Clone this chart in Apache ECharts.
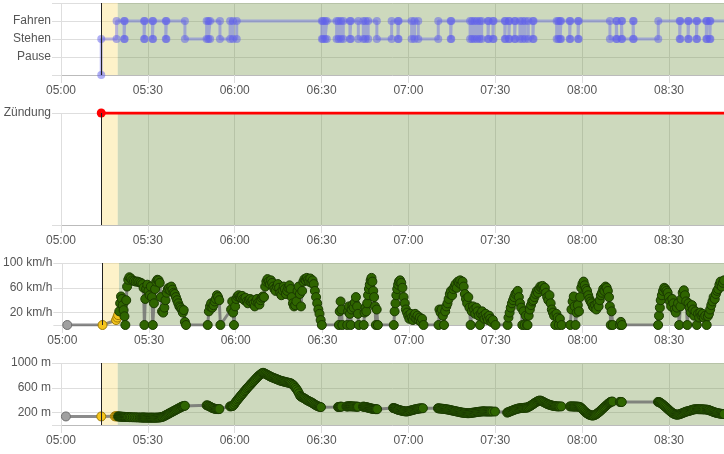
<!DOCTYPE html>
<html><head><meta charset="utf-8">
<script src="https://cdn.jsdelivr.net/npm/echarts@6/dist/echarts.min.js"></script>
<style>html,body{margin:0;padding:0;background:#fff}#c{width:724px;height:454px}</style>
</head><body><div id="c"></div>
<script>
// time values are minutes after 05:00
const axisMinutes = [0, 229];
const xTickLabels = ['05:00','05:30','06:00','06:30','07:00','07:30','08:00','08:30'];
const ignitionStart = 13.9;
const drivingStart = 19.6;

const stateNames = ['', 'Pause', 'Stehen', 'Fahren', ''];
const stateTimes = [13.9,19.2,21.8,22.0,28.7,28.9,31.6,31.8,36.2,36.4,42.8,
  50.3,50.9,51.5,54.9,58.4,59.4,60.7,90.1,90.5,91.2,91.8,95.2,95.9,96.7,97.5,99.8,100.1,
  102.7,104.4,105.2,106.1,109.1,114.2,116.4,116.6,121.1,122.1,123.4,130.3,134.6,134.8,
  141.3,142.0,142.8,143.7,144.6,145.3,147.5,147.7,149.2,149.4,153.3,153.5,154.7,154.9,156.7,156.9,
  158.5,159.4,160.3,161.4,163.0,163.2,171.2,171.8,172.4,172.7,175.7,175.9,178.6,178.8,
  189.6,191.8,192.0,193.6,193.8,197.6,197.8,206.3,213.7,213.9,216.6,216.8,219.5,219.7,222.9,223.1,224.1,224.3];
const stateValues = [2,3,2,3,2,3,2,3,2,3,2,
  3,2,3,2,3,2,3,2,3,2,3,2,3,2,3,2,3,
  2,3,2,3,2,3,2,3,2,3,2,3,2,3,
  2,3,2,3,2,3,2,3,2,3,2,3,2,3,2,3,
  2,3,2,3,2,3,2,3,2,3,2,3,2,3,
  2,3,2,3,2,3,2,3,2,3,2,3,2,3,2,3,2,3];

const ignitionLabel = 'Zündung';
const ignitionTimes = [13.9, 230];
const ignitionValues = [1, 1];

const speedTicks = [20, 60, 100];
const altitudeTicks = [200, 600, 1000];

const gpsMinutes = [1.7,13.9,18.6,19.0,19.3,
  19.7,20.0,20.3,20.6,20.9,21.2,21.5,21.8,22.1,22.4,22.8,23.2,23.7,24.2,24.8,25.4,26.0,26.6,27.2,27.7,28.1,28.4,28.7,29.0,29.4,29.8,30.2,30.6,31.0,31.3,31.7,32.1,32.5,32.9,33.3,33.7,34.1,34.5,34.9,35.3,35.7,36.1,36.5,36.9,37.3,37.7,38.1,38.5,38.9,39.3,39.7,40.1,40.5,40.9,41.3,41.7,42.0,42.4,42.8,
  50.3,50.7,51.1,51.5,51.9,52.3,52.7,53.1,53.5,53.9,54.3,54.7,
  58.4,58.8,59.1,59.4,59.8,60.2,60.6,61.0,61.4,61.8,62.2,62.6,63.0,63.4,63.8,64.2,64.6,65.0,65.4,65.8,66.2,66.6,67.0,67.4,67.8,68.2,68.6,69.0,69.4,69.8,70.2,70.6,71.0,71.4,71.8,72.2,72.6,73.0,73.4,73.8,74.2,74.6,75.0,75.4,75.8,76.2,76.6,77.0,77.4,77.8,78.2,78.6,79.0,79.4,79.8,80.2,80.6,81.0,81.4,81.8,82.2,82.6,83.0,83.4,83.8,84.2,84.6,85.0,85.4,85.8,86.2,86.6,87.0,87.4,87.8,88.2,88.6,89.0,89.4,89.8,
  95.7,96.0,96.3,96.6,96.9,98.6,98.9,99.2,99.5,99.8,100.1,100.4,100.8,101.2,101.6,102.0,102.3,102.6,
  104.3,104.6,104.9,105.2,105.5,105.8,106.1,106.4,106.7,107.0,107.3,107.6,107.9,108.2,108.5,108.8,109.2,
  114.7,115.0,115.3,115.6,115.9,116.2,116.5,116.9,117.3,117.7,118.1,118.5,118.9,119.3,119.7,120.1,120.5,120.9,121.3,121.7,122.1,122.5,122.9,123.3,123.7,124.1,124.5,125.0,
  130.2,130.5,130.9,131.3,131.7,132.1,132.5,132.9,133.3,133.7,134.1,134.5,134.9,135.3,135.7,136.1,136.5,136.9,137.3,137.7,138.1,138.5,138.9,139.3,139.7,140.1,140.5,140.9,141.3,141.7,142.1,142.5,142.9,143.3,143.7,144.1,144.5,144.9,145.3,145.7,146.1,146.5,146.9,147.3,147.7,148.1,148.5,149.0,149.9,
  154.1,154.4,154.8,155.2,155.6,156.0,156.4,156.8,157.2,157.6,158.0,158.4,158.8,159.2,159.6,160.0,160.4,160.8,
  161.0,161.4,161.8,162.2,162.6,163.0,163.4,163.8,164.2,164.6,165.0,165.4,165.8,166.2,166.6,167.0,167.4,167.8,168.2,168.6,169.0,169.4,169.8,170.2,170.6,171.0,171.4,171.8,172.2,172.8,
  175.8,176.2,176.6,177.0,177.3,177.6,178.0,178.4,178.8,179.2,179.6,180.0,180.4,180.8,181.2,181.6,182.0,182.4,182.8,183.2,183.6,184.0,184.4,184.8,185.2,185.6,186.0,186.4,186.8,187.2,187.6,188.0,188.4,188.8,189.2,189.5,189.8,190.1,190.5,193.0,193.3,193.7,
  206.2,206.5,206.8,207.1,207.5,207.9,208.3,208.7,209.1,209.5,209.9,210.3,210.7,211.1,211.5,211.9,212.3,212.7,213.1,213.5,213.9,214.3,214.7,215.1,215.5,215.9,216.3,216.7,217.1,217.5,217.9,218.3,218.7,219.1,219.6,220.0,220.4,220.8,221.2,221.6,222.0,222.5,223.0,223.4,223.8,224.2,224.6,225.0,225.4,225.8,226.2,226.6,227.0,227.4,227.8,228.2,228.6,229.0,229.5];

const gpsSpeed = [0,0,8,12,16,
  22,35,46,42,32,24,14,0,40,62,73,77,75,72,71,70,70,69,68,66,60,0,42,58,65,55,48,62,45,0,35,58,70,73,72,68,45,22,20,28,40,52,58,60,56,62,57,52,50,45,40,35,30,28,25,20,24,5,0,
  0,22,30,35,28,32,38,42,48,45,40,0,
  25,38,20,0,30,42,46,48,45,44,47,42,40,44,38,35,40,42,37,40,35,30,38,42,36,33,40,44,46,45,62,70,74,70,66,72,68,62,58,55,62,66,60,52,48,56,62,58,50,55,60,64,58,45,35,30,32,38,55,62,50,30,55,70,74,72,76,73,70,75,68,72,66,55,45,35,25,18,8,0,
  0,22,38,25,0,0,22,30,18,0,25,32,28,36,45,30,18,0,
  0,20,28,22,35,48,58,65,72,76,70,55,45,30,0,25,0,
  0,22,35,48,58,65,70,72,68,60,45,35,25,20,15,10,18,12,8,14,18,10,15,8,12,5,10,0,
  0,25,20,25,15,0,22,30,35,42,50,55,48,58,62,66,60,70,68,72,65,70,62,50,42,35,45,28,0,22,30,25,18,28,22,15,0,18,22,15,10,18,12,8,15,10,5,8,0,
  0,12,20,28,35,40,45,50,52,55,45,35,28,0,22,0,15,0,
  0,15,25,32,38,40,45,50,55,52,58,62,60,63,58,60,52,45,40,48,35,25,20,15,0,18,12,0,10,0,
  0,25,38,46,30,0,20,32,22,45,60,66,70,64,58,55,48,42,38,35,30,28,32,25,35,30,40,48,52,58,55,62,60,55,45,30,0,22,0,0,5,0,
  0,15,28,40,48,55,60,58,55,52,45,38,30,42,35,25,20,28,35,0,30,42,52,56,48,38,0,35,28,20,32,25,15,22,0,18,12,20,15,18,12,15,0,14,18,25,32,38,45,42,50,55,58,65,70,62,68,72,75];

const gpsAltitude = [138,138,140,140,140,
  138,137,136,135,134,133,132,132,131,130,129,128,127,126,125,124,123,122,121,120,120,120,120,119,119,118,118,118,118,118,118,118,118,118,119,120,122,125,130,135,145,155,165,175,185,195,205,215,225,235,245,255,265,275,285,295,300,305,310,
  318,315,305,295,285,275,268,262,258,256,256,258,
  300,302,305,310,330,360,385,410,430,455,475,500,520,545,565,590,610,630,650,670,690,710,730,750,770,790,805,820,835,842,835,825,815,805,795,785,775,768,760,752,745,738,730,722,715,710,705,700,695,690,686,682,678,672,660,645,625,600,575,545,510,470,455,445,435,425,412,400,390,380,372,362,350,338,325,315,305,298,292,288,
  290,292,294,295,296,298,300,300,302,302,302,300,300,298,298,296,295,295,
  296,295,293,290,287,283,280,276,272,268,265,262,260,258,256,255,255,
  275,272,268,262,255,250,245,240,235,230,225,222,220,218,220,225,230,235,240,245,250,255,258,262,265,268,270,270,
  270,268,266,264,262,260,258,255,252,248,245,240,236,232,228,224,220,216,212,208,204,200,198,196,194,192,190,190,192,195,198,200,203,206,210,212,214,216,218,220,220,219,218,218,218,218,218,217,217,
  200,205,212,220,228,235,242,250,256,262,266,270,272,274,276,278,280,280,
  282,290,300,310,322,335,348,360,372,382,390,395,390,382,372,362,352,342,335,328,322,316,312,308,305,302,300,300,300,300,
  300,300,300,298,298,298,298,296,295,292,280,262,242,222,205,190,178,168,160,155,152,155,162,172,185,200,215,232,250,268,285,300,318,335,350,362,372,376,378,372,372,370,
  372,370,365,355,342,328,312,296,280,262,245,228,212,198,186,176,170,166,168,172,178,185,192,200,208,215,220,225,230,236,242,248,252,255,256,255,254,254,254,253,252,250,248,245,240,232,225,218,210,204,198,194,190,186,182,180,178,176,175];

// ---------- chart construction ----------
const FONT = {fontFamily: 'Liberation Sans, Arial, sans-serif', fontSize: 12, color: '#555'};
const grids = [
  {left: 61, right: 0, top: 3, height: 72},
  {left: 61, right: 0, top: 113, height: 112},
  {left: 61, right: 0, top: 263, height: 62},
  {left: 61, right: 0, top: 363, height: 62}
];
const tickMinutes = xTickLabels.map((_, i) => i * 30);

function xAxis(i) {
  return {
    type: 'value', gridIndex: i, min: axisMinutes[0], max: axisMinutes[1], interval: 30,
    axisLine: {show: true, lineStyle: {color: '#bbb', width: 1}},
    axisTick: {show: true, length: 8, lineStyle: {color: '#ddd'}, customValues: tickMinutes},
    axisLabel: Object.assign({margin: 10, customValues: tickMinutes, hideOverlap: false,
      formatter: v => (v % 30 === 0 && xTickLabels[v / 30]) ? xTickLabels[v / 30] : ''}, FONT),
    splitLine: {show: true, lineStyle: {color: '#dedede', width: 1}}
  };
}

function yAxisBase(i, min, max) {
  return {
    type: 'value', gridIndex: i, min: min, max: max,
    axisLine: {show: false},
    axisTick: {show: true, length: 9, lineStyle: {color: '#ddd'}},
    splitLine: {show: true, lineStyle: {color: '#dedede', width: 1}}
  };
}

const yAxes = [
  Object.assign(yAxisBase(0, 0, 4), {interval: 1,
    axisLabel: Object.assign({margin: 10, formatter: v => stateNames[v] || ''}, FONT)}),
  Object.assign(yAxisBase(1, 0, 1), {interval: 1,
    axisLabel: Object.assign({margin: 10, formatter: v => v === 1 ? ignitionLabel : ''}, FONT)}),
  (() => { const a = yAxisBase(2, 0, 100);
    a.axisTick.customValues = [0].concat(speedTicks);
    a.axisLabel = Object.assign({margin: 10, customValues: speedTicks, formatter: v => speedTicks.includes(v) ? v + ' km/h' : ''}, FONT);
    return a; })(),
  (() => { const a = yAxisBase(3, 0, 1000);
    a.axisTick.customValues = [0].concat(altitudeTicks);
    a.axisLabel = Object.assign({margin: 10, customValues: altitudeTicks, formatter: v => altitudeTicks.includes(v) ? v + ' m' : ''}, FONT);
    return a; })()
];

function bgSeries(i) {
  return {
    type: 'line', xAxisIndex: i, yAxisIndex: i, data: [], silent: true, z: 1,
    markArea: {silent: true, data: [
      [{xAxis: ignitionStart, itemStyle: {color: 'rgba(249,221,112,0.38)'}}, {xAxis: drivingStart}],
      [{xAxis: drivingStart, itemStyle: {color: 'rgba(112,146,66,0.35)'}}, {xAxis: axisMinutes[1] + 5}]
    ]},
    markLine: {silent: true, symbol: 'none', label: {show: false}, animation: false,
      lineStyle: {color: '#222', width: 1, type: 'solid'}, data: [{xAxis: ignitionStart}]}
  };
}

// state step data: two points per change so both levels get a dot
const stateData = [];
let prev = 0;
stateTimes.forEach((t, i) => { stateData.push([t, prev]); stateData.push([t, stateValues[i]]); prev = stateValues[i]; });
stateData.push([axisMinutes[1] + 2, prev]);

const phaseStyle = {
  pre: {color: '#a0a0a0', borderColor: '#6e6e6e', borderWidth: 1},
  ign: {color: '#f5c51c', borderColor: '#9c7a06', borderWidth: 1},
  drive: {color: '#2f6500', borderColor: '#1a3a00', borderWidth: 1}
};
function phase(t) { return t < ignitionStart - 0.05 ? 'pre' : (t < drivingStart ? 'ign' : 'drive'); }
function gpsData(values) {
  return gpsMinutes.map((t, i) => ({value: [t, values[i]], itemStyle: phaseStyle[phase(t)]}));
}

const gpsLine = {color: 'rgba(110,110,110,0.8)', width: 3};

const option = {
  animation: false,
  grid: grids,
  xAxis: [0, 1, 2, 3].map(xAxis),
  yAxis: yAxes,
  series: [
    bgSeries(0), bgSeries(1), bgSeries(2), bgSeries(3),
    {type: 'line', xAxisIndex: 0, yAxisIndex: 0, data: stateData, z: 3,
      symbol: 'circle', symbolSize: 8, showAllSymbol: true,
      itemStyle: {color: 'rgba(95,95,235,0.5)'},
      lineStyle: {color: 'rgba(95,95,235,0.42)', width: 3}},
    {type: 'line', xAxisIndex: 1, yAxisIndex: 1, z: 3,
      data: ignitionTimes.map((t, i) => ({value: [t, ignitionValues[i]], symbol: i === 0 ? 'circle' : 'none'})),
      symbolSize: 9, itemStyle: {color: '#ff0000'}, lineStyle: {color: '#ff0000', width: 3}},
    {type: 'line', xAxisIndex: 2, yAxisIndex: 2, z: 3, data: gpsData(gpsSpeed),
      symbol: 'circle', symbolSize: 9, showAllSymbol: true, lineStyle: gpsLine},
    {type: 'line', xAxisIndex: 3, yAxisIndex: 3, z: 3, data: gpsData(gpsAltitude),
      symbol: 'circle', symbolSize: 9, showAllSymbol: true, lineStyle: gpsLine}
  ]
};
echarts.init(document.getElementById('c'), null, {renderer: 'canvas'}).setOption(option);
</script>
</body></html>
